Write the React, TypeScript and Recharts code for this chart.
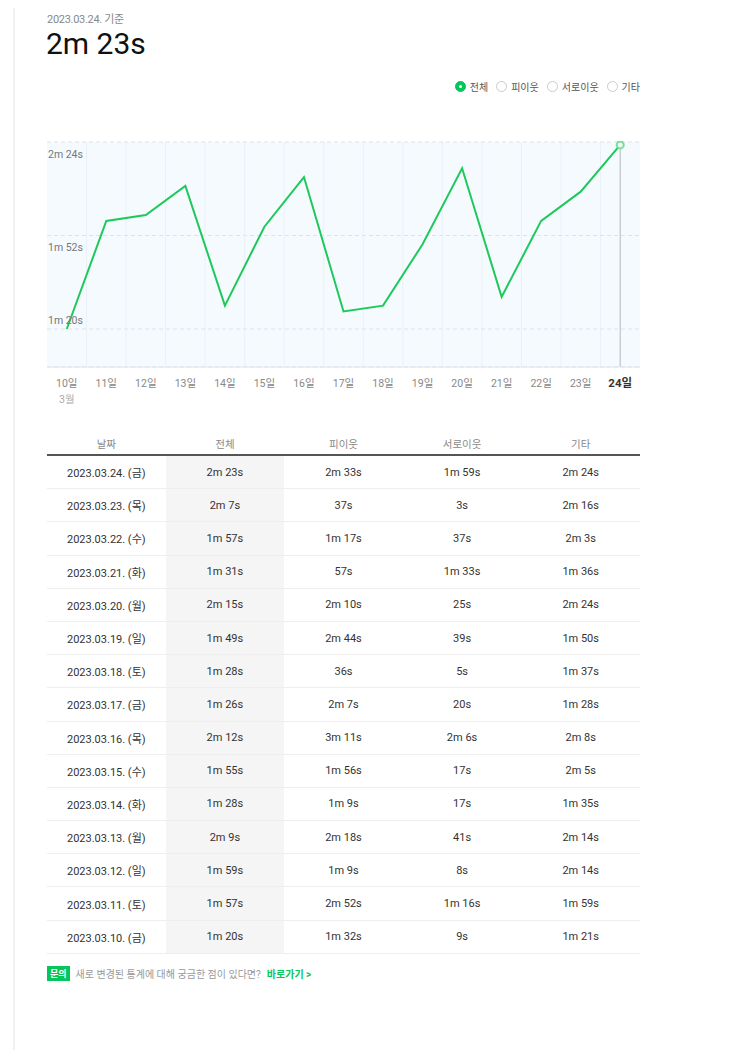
import { LineChart, Line, XAxis, YAxis, CartesianGrid, ReferenceLine } from 'recharts';

const days = ['10일', '11일', '12일', '13일', '14일', '15일', '16일', '17일', '18일', '19일', '20일', '21일', '22일', '23일', '24일'];
const weekdays = ['금', '토', '일', '월', '화', '수', '목', '금', '토', '일', '월', '화', '수', '목', '금'];
// seconds, 3/10 -> 3/24
const totalSec = [80, 117, 119, 129, 88, 115, 132, 86, 88, 109, 135, 91, 117, 127, 143];
const neighborSec = [92, 172, 69, 138, 69, 116, 191, 127, 36, 164, 130, 57, 77, 37, 153];
const mutualSec = [9, 76, 8, 41, 17, 17, 126, 20, 5, 39, 25, 93, 37, 3, 119];
const otherSec = [81, 119, 134, 134, 95, 125, 128, 88, 97, 110, 144, 96, 123, 136, 144];
const yTicks = [80, 112, 144];
const yMin = 67;
const headers = ['날짜', '전체', '피이웃', '서로이웃', '기타'];
const legendItems = ['전체', '피이웃', '서로이웃', '기타'];

const FONT = 'Roboto, "Noto Sans CJK KR", sans-serif';
const GREEN = '#03c75a';

const fmt = (s: number) => (s < 60 ? `${s}s` : `${Math.floor(s / 60)}m ${s % 60}s`);

const chartData = days.map((d, i) => ({ day: d, total: totalSec[i] }));
const lastIdx = chartData.length - 1;

const tableRows = days
  .map((d, i) => ({
    date: `2023.03.${d.replace('일', '')}. (${weekdays[i]})`,
    vals: [totalSec[i], neighborSec[i], mutualSec[i], otherSec[i]],
  }))
  .reverse();

// lowest label sits above its gridline, the others below
const YTick = ({ y, payload }: any) => {
  const cy = payload.coordinate ?? y;
  return (
    <text x={1} y={cy} dy={payload.value === yTicks[0] ? -9 : 12} dominantBaseline="central" fontSize={10.5} fill="#777" fontFamily={FONT}>
      {fmt(payload.value)}
    </text>
  );
};

const XTick = ({ x, y, payload, index }: any) => {
  const last = index === lastIdx;
  return (
    <g>
      <text x={x} y={y + 20} textAnchor="middle" fontSize={last ? 11.5 : 10.5} fontWeight={last ? 700 : 400} fill={last ? '#333' : '#888'} fontFamily={FONT}>
        {payload.value}
      </text>
      {index === 0 && (
        <text x={x} y={y + 36} textAnchor="middle" fontSize={10.5} fill="#aaa" fontFamily={FONT}>
          3월
        </text>
      )}
    </g>
  );
};

const LastDot = ({ cx, cy, index }: any) =>
  index === lastIdx ? <circle cx={cx} cy={cy} r={3.5} fill="#e8f9ee" stroke="#7bdc9c" strokeWidth={2} /> : null;

const App = () => {
  return (
    <div style={{ position: 'relative', width: 727, height: 1042, fontFamily: FONT }}>
      <div style={{ position: 'absolute', left: 5, top: -8, width: 2, height: 1058, background: '#f1f1f1' }} />
      <div style={{ position: 'absolute', left: 39, top: 2, fontSize: 11, color: '#888', letterSpacing: -0.3 }}>2023.03.24. 기준</div>
      <div style={{ position: 'absolute', left: 38, top: 18, fontSize: 30, color: '#111' }}>{fmt(totalSec[lastIdx])}</div>

      <div style={{ position: 'absolute', right: 95, top: 71, display: 'flex', alignItems: 'center', fontSize: 10, color: '#555' }}>
        {legendItems.map((t, i) => (
          <div key={t} style={{ display: 'flex', alignItems: 'center', marginLeft: i === 0 ? 0 : 8 }}>
            <span
              style={{
                width: 9,
                height: 9,
                borderRadius: '50%',
                border: i === 0 ? `1px solid ${GREEN}` : '1px solid #ccc',
                background: i === 0 ? GREEN : '#fff',
                marginRight: 4,
                display: 'flex',
                alignItems: 'center',
                justifyContent: 'center',
              }}
            >
              {i === 0 && <span style={{ width: 3, height: 3, borderRadius: '50%', background: '#fff' }} />}
            </span>
            {t}
          </div>
        ))}
      </div>

      <div style={{ position: 'absolute', left: 39, top: 133 }}>
        <LineChart width={593} height={272} data={chartData} margin={{ top: 1, right: 0, left: 0, bottom: 0 }}>
          <CartesianGrid
            fill="#f5faff"
            stroke="#e9f1f8"
            horizontal={false}
            verticalCoordinatesGenerator={({ offset }: any) =>
              days.slice(1).map((_, i) => offset.left + ((i + 1) * offset.width) / days.length)
            }
          />
          <CartesianGrid vertical={false} stroke="#dde3e8" strokeDasharray="4 3" />
          <XAxis dataKey="day" scale="band" axisLine={{ stroke: '#dfe5ea' }} tickLine={false} tickSize={0} tickMargin={0} height={46} interval={0} tick={<XTick />} />
          <YAxis domain={[yMin, 144]} ticks={yTicks} width={40} mirror axisLine={false} tickLine={false} tick={<YTick />} />
          <ReferenceLine
            segment={[
              { x: days[lastIdx], y: totalSec[lastIdx] },
              { x: days[lastIdx], y: yMin },
            ]}
            stroke="#c9ced3"
            strokeWidth={1.5}
          />
          <Line type="linear" dataKey="total" stroke="#1ec95b" strokeWidth={2} dot={<LastDot />} activeDot={false} isAnimationActive={false} />
        </LineChart>
      </div>

      <table
        style={{
          position: 'absolute',
          left: 39,
          top: 424,
          width: 593,
          borderCollapse: 'collapse',
          tableLayout: 'fixed',
          fontSize: 11,
          color: '#333',
        }}
      >
        <thead>
          <tr>
            {headers.map((h) => (
              <th key={h} style={{ height: 21, fontWeight: 400, fontSize: 10.5, color: '#888', borderBottom: '2px solid #555', paddingBottom: 0 }}>
                {h}
              </th>
            ))}
          </tr>
        </thead>
        <tbody>
          {tableRows.map((r) => (
            <tr key={r.date}>
              <td style={{ height: 32.2, textAlign: 'center', borderBottom: '1px solid #eee', padding: 0 }}>{r.date}</td>
              {r.vals.map((v, j) => (
                <td
                  key={j}
                  style={{
                    height: 32.2,
                    textAlign: 'center',
                    borderBottom: '1px solid #eee',
                    padding: 0,
                    background: j === 0 ? '#f5f5f5' : 'transparent',
                  }}
                >
                  {fmt(v)}
                </td>
              ))}
            </tr>
          ))}
        </tbody>
      </table>

      <div style={{ position: 'absolute', left: 39, top: 958, display: 'flex', alignItems: 'center', fontSize: 10 }}>
        <span style={{ background: GREEN, color: '#fff', fontWeight: 700, fontSize: 9, padding: '1px 3px', marginRight: 6 }}>문의</span>
        <span style={{ color: '#999' }}>새로 변경된 통계에 대해 궁금한 점이 있다면?</span>
        <span style={{ color: GREEN, fontWeight: 700, marginLeft: 6 }}>바로가기 &gt;</span>
      </div>
    </div>
  );
};

export default App;
